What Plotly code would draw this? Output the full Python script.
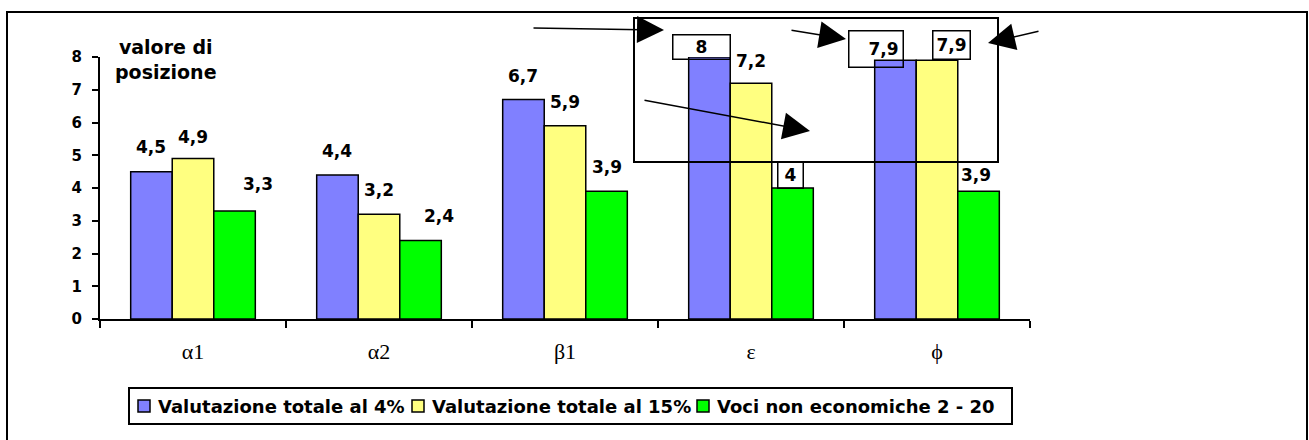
import plotly.graph_objects as go

# --- dati ---
categorie = ["α1", "α2", "β1", "ε", "ϕ"]
serie = ["Valutazione totale al 4%", "Valutazione totale al 15%", "Voci non economiche 2 - 20"]
val_4 = [4.5, 4.4, 6.7, 8, 7.9]
val_15 = [4.9, 3.2, 5.9, 7.2, 7.9]
voci_non_econ = [3.3, 2.4, 3.9, 4, 3.9]
y_ticks = [0, 1, 2, 3, 4, 5, 6, 7, 8]
titolo_y = "valore di<br>posizione"

valori = [val_4, val_15, voci_non_econ]
colori = ["#8080FF", "#FFFF80", "#00FF00"]

# --- geometria della pagina (pixel) ---
FIG_W, FIG_H = 1309, 440
L, T, W, H = 100, 57, 930, 262          # area del grafico
BARGAP = 0.33
BOLD = dict(family="DejaVu Sans", color="black", weight="bold")


def px_x(p):
    return (p - L) / W


def px_y(p):
    return (T + H - p) / H


fig = go.Figure()
for nome, vals, col in zip(serie, valori, colori):
    fig.add_trace(go.Bar(
        x=categorie, y=vals, name=nome, showlegend=False,
        marker=dict(color=col, line=dict(color="black", width=1.5)),
    ))

# etichette dei valori (virgola decimale)
bar_w = W / len(categorie) * (1 - BARGAP) / len(serie)
offsets = [(i - 1) * bar_w for i in range(len(serie))]


def fmt(v):
    return f"{v:g}".replace(".", ",")


# spostamenti delle etichette (dx, dy in px) e riquadri evidenziati
sposta = {
    (0, 0): (0, 25), (1, 0): (0, 22), (2, 0): (23, 27),
    (2, 1): (18, 24),
    (1, 3): (0, 22),
    (2, 4): (-3, 16),
}
riquadri = {
    # (serie, cat): (dx, dy, width, height, pad, align)
    (0, 3): (-8, 10.5, 50, 17, 3, "center"),
    (0, 4): (-19.5, 11.5, 45, 27, 4, "right"),
    (1, 4): (14.5, 15.5, 30, 21, 3, "center"),
    (2, 3): (-2, 13.5, 20, 21, 2, "center"),
}

annotations = []
for s, vals in enumerate(valori):
    for c, v in enumerate(vals):
        key = (s, c)
        if key in riquadri:
            dx, dy, bw, bh, pad, al = riquadri[key]
            annotations.append(dict(
                x=categorie[c], y=v, xref="x", yref="y", text=fmt(v),
                showarrow=False, xshift=offsets[s] + dx, yshift=dy,
                xanchor="center", yanchor="middle", width=bw, height=bh,
                align=al, borderpad=pad, bordercolor="black", borderwidth=1.5,
                font=dict(BOLD, size=17),
            ))
        else:
            dx, dy = sposta.get(key, (0, 24))
            annotations.append(dict(
                x=categorie[c], y=v, xref="x", yref="y", text=fmt(v),
                showarrow=False, xshift=offsets[s] + dx, yshift=dy,
                xanchor="center", yanchor="middle",
                font=dict(BOLD, size=17),
            ))

# titolo dell'asse verticale
annotations.append(dict(
    x=px_x(166), y=px_y(60), xref="paper", yref="paper", text=titolo_y,
    showarrow=False, xanchor="center", yanchor="middle", align="center",
    font=dict(BOLD, size=19),
))

# frecce
frecce = [
    ((664, 30), (532, 28)),
    ((846, 39), (790, 30)),
    ((988, 43), (1040, 31)),
    ((810, 131), (643, 100)),
]
for (tx, ty), (cx, cy) in frecce:
    annotations.append(dict(
        x=px_x(tx), y=px_y(ty), xref="paper", yref="paper", text="",
        showarrow=True, ax=cx - tx, ay=cy - ty, axref="pixel", ayref="pixel",
        arrowhead=2, arrowsize=3.6, arrowwidth=1.5, arrowcolor="black",
        standoff=0,
    ))

# legenda
leg_quadrati = [138, 412, 697]
leg_testi = [156, 430, 715]
LEG_Y = 406
shapes = []
for nome, col, qx, tx in zip(serie, colori, leg_quadrati, leg_testi):
    shapes.append(dict(
        type="rect", xref="paper", yref="paper",
        x0=px_x(qx), x1=px_x(qx + 12), y0=px_y(LEG_Y - 6), y1=px_y(LEG_Y + 6),
        fillcolor=col, line=dict(color="black", width=1.5), layer="above",
    ))
    annotations.append(dict(
        x=px_x(tx), y=px_y(LEG_Y), xref="paper", yref="paper", text=nome,
        showarrow=False, xanchor="left", yanchor="middle",
        font=dict(BOLD, size=18),
    ))
shapes.append(dict(
    type="rect", xref="paper", yref="paper",
    x0=px_x(129), x1=px_x(1012), y0=px_y(388), y1=px_y(424),
    line=dict(color="black", width=2), layer="above",
))

# riquadro evidenziato sopra le barre
shapes.append(dict(
    type="rect", xref="paper", yref="paper",
    x0=px_x(634), x1=px_x(998), y0=px_y(18), y1=px_y(162),
    line=dict(color="black", width=2), layer="above",
))

# cornice esterna
shapes.append(dict(
    type="rect", xref="paper", yref="paper",
    x0=px_x(7), x1=px_x(1307), y0=px_y(12), y1=px_y(460),
    line=dict(color="black", width=2), layer="above",
))

fig.update_layout(
    width=FIG_W, height=FIG_H, autosize=False,
    margin=dict(l=L, r=FIG_W - L - W, t=T, b=FIG_H - T - H, pad=0),
    paper_bgcolor="white", plot_bgcolor="white",
    barmode="group", bargap=BARGAP, bargroupgap=0,
    showlegend=False,
    annotations=annotations, shapes=shapes,
    xaxis=dict(
        type="category", showline=True, linecolor="black", linewidth=2,
        ticks="outside", tickson="boundaries", ticklen=7, tickwidth=2,
        tickcolor="black", showgrid=False, zeroline=False,
        tickfont=dict(family="Liberation Serif", size=22, color="black"),
        ticklabelstandoff=12,
    ),
    yaxis=dict(
        range=[0, 8], tickvals=y_ticks, showline=True, linecolor="black",
        linewidth=2, ticks="outside", ticklen=6, tickwidth=2,
        tickcolor="black", showgrid=False, zeroline=False,
        tickfont=dict(BOLD, size=15), ticklabelstandoff=7,
    ),
)

fig.write_html("out.html")
